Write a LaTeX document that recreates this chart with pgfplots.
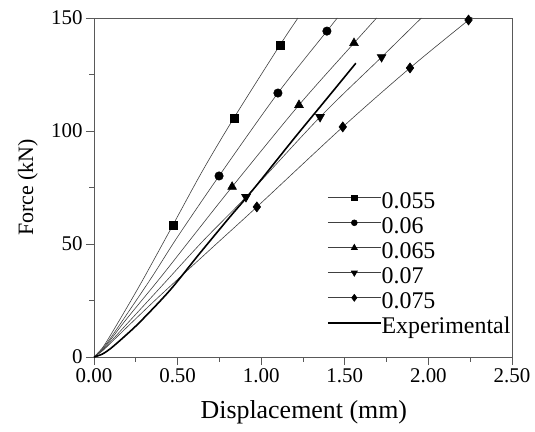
\documentclass[border=0pt]{standalone}
\usepackage{pgfplots}
\pgfplotsset{compat=1.18}
\usepackage{fontspec}
\setmainfont{Liberation Serif}
\begin{document}
\begin{tikzpicture}
\begin{axis}[
  scale only axis,
  width=418bp, height=339bp,
  xmin=0, xmax=2.5, ymin=0, ymax=150,
  xtick={0,0.5,1,1.5,2,2.5},
  ytick={0,50,100,150},
  minor x tick num=1, minor y tick num=1,
  tick align=outside,
  xtick pos=left, ytick pos=left,
  major tick length=8bp, minor tick length=4.5bp,
  axis line style={black!65, line width=0.8bp},
  every tick/.style={black!65, line width=0.8bp},
  /pgf/number format/assume math mode=true,
  xticklabel style={/pgf/number format/fixed, /pgf/number format/fixed zerofill, /pgf/number format/precision=2, font=\fontsize{21}{23}\selectfont},
  yticklabel style={font=\fontsize{21}{23}\selectfont},
  xlabel={Displacement (mm)},
  ylabel={Force (kN)},
  xlabel style={font=\fontsize{26}{28}\selectfont, at={(axis description cs:0.502,-0.18)}, anchor=base},
  ylabel style={font=\fontsize{22}{24}\selectfont, at={(axis description cs:-0.158,0.5)}, anchor=center},
  clip mode=individual,
  legend cell align=left,
  legend style={at={(axis description cs:0.557,0.485)}, anchor=north west, draw=none, fill=none,
    font=\fontsize{24}{25}\selectfont, inner sep=0pt, row sep=0pt,
    nodes={inner sep=0pt, text height=16bp, text depth=9bp}},
  legend image code/.code={\draw[#1, mark indices={2}, every mark/.append style={scale=0.7}] plot coordinates {(0bp,7.5bp) (26.5bp,7.5bp) (53bp,7.5bp)};},
  every axis plot/.append style={black!75, line width=0.6bp, mark options={fill=black, draw=black, solid}},
]
\addplot[smooth, mark=square*, mark size=4bp, mark indices={6,8,9}] coordinates {
(0,0) (0.05,4.0) (0.1,9.8) (0.2,22.3) (0.3,35.2) (0.472,58.4) (0.65,82.5) (0.837,105.8) (1.112,138) (1.22,150)};
\addlegendentry{0.055}
\addplot[smooth, mark=*, mark size=4.2bp, mark indices={7,8,9}] coordinates {
(0,0) (0.05,3.6) (0.1,8.5) (0.2,19.3) (0.35,35.8) (0.5,53.2) (0.748,80.1) (1.10,116.8) (1.393,144.2) (1.455,150)};
\addlegendentry{0.06}
\addplot[smooth, mark=triangle*, mark size=5bp, mark indices={7,8,9}] coordinates {
(0,0) (0.05,3.2) (0.1,7.7) (0.2,17.3) (0.4,35.4) (0.6,54.2) (0.826,75.3) (1.226,111.5) (1.555,138.9) (1.69,150)};
\addlegendentry{0.065}
\addplot[smooth, mark=triangle*, mark size=5bp, mark options={rotate=180, fill=black, draw=black, solid}, mark indices={7,8,9}] coordinates {
(0,0) (0.05,2.9) (0.1,6.8) (0.2,14.9) (0.4,31) (0.65,51.2) (0.909,70.8) (1.352,106.2) (1.72,132.7) (1.958,150)};
\addlegendentry{0.07}
\addplot[smooth, mark=diamond*, mark size=5bp, mark indices={7,8,9,10}] coordinates {
(0,0) (0.05,2.7) (0.1,6.2) (0.2,13.4) (0.4,27.5) (0.7,47.9) (0.974,66.4) (1.488,101.8) (1.89,127.9) (2.24,149.1) (2.255,150)};
\addlegendentry{0.075}
\addplot[smooth, black, line width=1.6bp, no marks] coordinates {
(0,0) (0.05,1.3) (0.1,3.8) (0.175,8.6) (0.275,15.5) (0.455,29.6) (0.634,46) (0.813,62) (0.9,69.5) (1.0,78.5) (1.2,97) (1.4,115) (1.566,130)};
\addlegendentry{Experimental}
\end{axis}
\pgfresetboundingbox
\path ([xshift=-94bp,yshift=-75bp]current axis.south west) rectangle ([xshift=23bp,yshift=18bp]current axis.north east);
\end{tikzpicture}
\end{document}
